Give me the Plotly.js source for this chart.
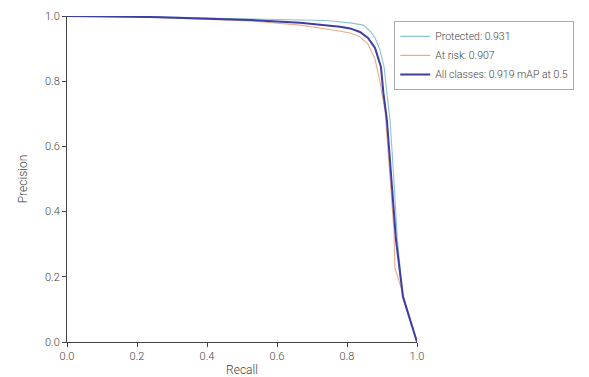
<!DOCTYPE html>
<html>
<head>
<meta charset="utf-8">
<script src="https://cdn.plot.ly/plotly-3.0.1.min.js"></script>
<style>html,body{margin:0;padding:0;background:#fff;}#chart{width:589px;height:377px;}</style>
</head>
<body>
<div id="chart"></div>
<script>
const protectedRecall = [0, 0.237, 0.523, 0.666, 0.74, 0.809, 0.846, 0.866, 0.88, 0.894, 0.906, 0.914, 0.923, 0.934, 0.944, 0.96, 1.0];
const protectedPrecision = [1.0, 0.998, 0.991, 0.989, 0.986, 0.979, 0.972, 0.954, 0.933, 0.896, 0.844, 0.764, 0.681, 0.497, 0.313, 0.138, 0.0];

const atRiskRecall = [0, 0.237, 0.523, 0.666, 0.76, 0.809, 0.837, 0.86, 0.88, 0.894, 0.909, 0.917, 0.929, 0.934, 0.937, 0.96, 1.0];
const atRiskPrecision = [1.0, 0.996, 0.985, 0.972, 0.957, 0.948, 0.936, 0.914, 0.868, 0.80, 0.706, 0.589, 0.436, 0.344, 0.227, 0.147, 0.0];

const allRecall = [0, 0.237, 0.523, 0.666, 0.78, 0.809, 0.837, 0.86, 0.88, 0.897, 0.904, 0.914, 0.927, 0.94, 0.96, 1.0];
const allPrecision = [1.0, 0.997, 0.988, 0.979, 0.967, 0.962, 0.951, 0.933, 0.902, 0.844, 0.764, 0.681, 0.497, 0.313, 0.138, 0.0];

const seriesNames = ["Protected: 0.931", "At risk: 0.907", "All classes: 0.919 mAP at 0.5"];

const traces = [
  {x: protectedRecall, y: protectedPrecision, name: seriesNames[0], mode: "lines",
   line: {color: "#8cc2d2", width: 1.1}},
  {x: atRiskRecall, y: atRiskPrecision, name: seriesNames[1], mode: "lines",
   line: {color: "#e9ad86", width: 1.1}},
  {x: allRecall, y: allPrecision, name: seriesNames[2], mode: "lines",
   line: {color: "#3d3da6", width: 2}}
];

const tickVals = [0, 0.2, 0.4, 0.6, 0.8, 1.0];
const tickText = ["0.0", "0.2", "0.4", "0.6", "0.8", "1.0"];

const layout = {
  width: 589, height: 377,
  margin: {l: 67, r: 172, t: 16, b: 35},
  paper_bgcolor: "#fff", plot_bgcolor: "#fff",
  font: {family: "Roboto", size: 11, color: "#444", weight: 300},
  showlegend: true,
  legend: {x: 0.935, y: 0.985, xanchor: "left", yanchor: "top",
           bordercolor: "#aaa", borderwidth: 1, bgcolor: "#fff",
           font: {family: "Roboto", size: 10.5, color: "#444", weight: 300},
           itemwidth: 30, tracegroupgap: 0},
  xaxis: {range: [0, 1], tickvals: tickVals, ticktext: tickText,
          showgrid: false, zeroline: false, showline: true, linecolor: "#444", linewidth: 1,
          ticks: "outside", ticklen: 4, tickcolor: "#444",
          title: {text: "Recall", font: {size: 12, color: "#444", weight: 300}, standoff: 4}},
  yaxis: {range: [0, 1], tickvals: tickVals, ticktext: tickText,
          showgrid: false, zeroline: false, showline: true, linecolor: "#444", linewidth: 1,
          ticks: "outside", ticklen: 4, tickcolor: "#444",
          title: {text: "Precision", font: {size: 12, color: "#444", weight: 300}, standoff: 14}}
};

Plotly.newPlot("chart", traces, layout, {displayModeBar: false, staticPlot: true});
</script>
</body>
</html>
